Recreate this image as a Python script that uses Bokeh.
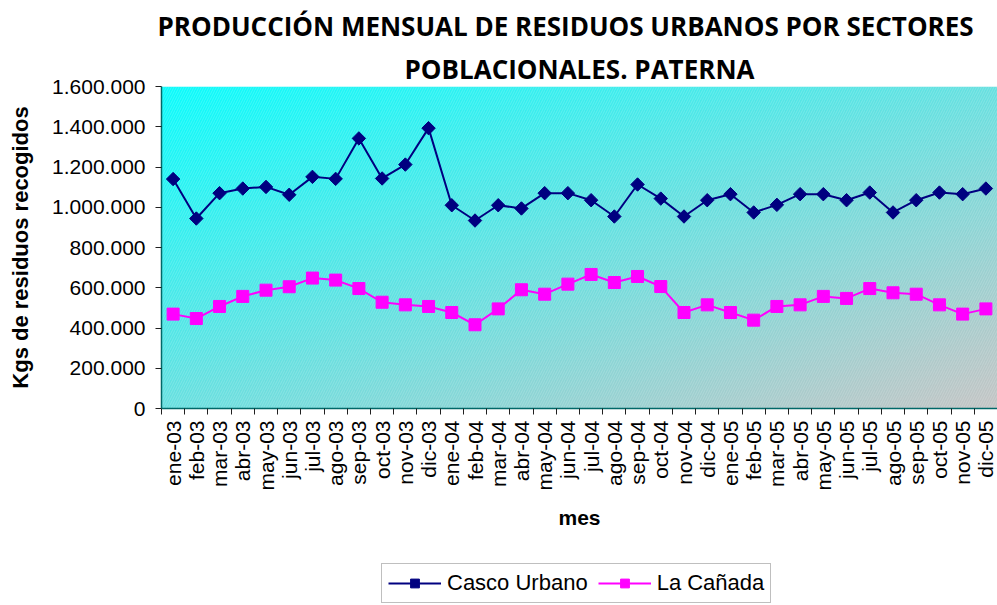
import numpy as np
from bokeh.plotting import figure
from bokeh.layouts import column
from bokeh.models import (Range1d, FixedTicker, Title, Legend, LegendItem)
from bokeh.embed import file_html
from bokeh.resources import INLINE

# ---------------- data ----------------
meses = ["ene-03", "feb-03", "mar-03", "abr-03", "may-03", "jun-03", "jul-03", "ago-03",
         "sep-03", "oct-03", "nov-03", "dic-03", "ene-04", "feb-04", "mar-04", "abr-04",
         "may-04", "jun-04", "jul-04", "ago-04", "sep-04", "oct-04", "nov-04", "dic-04",
         "ene-05", "feb-05", "mar-05", "abr-05", "may-05", "jun-05", "jul-05", "ago-05",
         "sep-05", "oct-05", "nov-05", "dic-05"]

casco_urbano = [1140000, 944000, 1070000, 1093000, 1101000, 1062000, 1151000, 1141000,
                1342000, 1143000, 1212000, 1393000, 1010000, 934000, 1010000, 994000,
                1070000, 1070000, 1035000, 954000, 1113000, 1043000, 954000, 1035000,
                1065000, 974000, 1012000, 1065000, 1065000, 1035000, 1073000, 974000,
                1035000, 1073000, 1065000, 1093000]

la_canada = [469000, 447000, 507000, 557000, 588000, 605000, 648000, 638000,
             596000, 528000, 515000, 507000, 477000, 416000, 495000, 590000,
             568000, 618000, 666000, 626000, 656000, 606000, 477000, 515000,
             477000, 439000, 507000, 515000, 557000, 547000, 596000, 575000,
             568000, 515000, 469000, 495000]

y_ticks = [0, 200000, 400000, 600000, 800000, 1000000, 1200000, 1400000, 1600000]
y_labels = ["0", "200.000", "400.000", "600.000", "800.000", "1.000.000",
            "1.200.000", "1.400.000", "1.600.000"]

series_names = ["Casco Urbano", "La Cañada"]
titulo_1 = "PRODUCCIÓN MENSUAL DE RESIDUOS URBANOS POR SECTORES"
titulo_2 = "POBLACIONALES. PATERNA"

# ---------------- figure ----------------
n = len(meses)
xs = [i + 0.5 for i in range(n)]
FONT = "Liberation Sans"
NAVY = "#000080"
MAGENTA = "#FF00FF"

p = figure(width=997, height=550, output_backend="svg", toolbar_location=None,
           title=None, x_range=Range1d(0, n), y_range=Range1d(0, y_ticks[-1]),
           min_border_left=161, min_border_right=0, min_border_top=86, min_border_bottom=142)
p.outline_line_color = None
p.background_fill_color = None
p.border_fill_color = "white"

# gradient background (cyan top-left -> grey bottom-right)
ny, nx = 120, 240
u = np.linspace(0, 1, nx)[None, :]
v = np.linspace(0, 1, ny)[:, None]
t = (u + (1 - v)) / 2.0
c0 = np.array([10, 252, 252], dtype=float)
c1 = np.array([196, 196, 196], dtype=float)
img = np.empty((ny, nx, 4), dtype=np.uint8)
for k in range(3):
    img[:, :, k] = np.clip(c0[k] + (c1[k] - c0[k]) * t, 0, 255).astype(np.uint8)
img[:, :, 3] = 255
img32 = img.view(dtype=np.uint32).reshape((ny, nx))
p.image_rgba(image=[img32], x=p.x_range.start, y=p.y_range.start,
             dw=p.x_range.end - p.x_range.start, dh=p.y_range.end - p.y_range.start)
p.quad(left=p.x_range.start, right=p.x_range.end, bottom=p.y_range.start, top=p.y_range.end,
       fill_alpha=0, line_alpha=0, hatch_pattern="/", hatch_color="white",
       hatch_alpha=0.18, hatch_scale=5, hatch_weight=1)

# series
p.line(xs, casco_urbano, line_color=NAVY, line_width=2)
p.scatter(xs, casco_urbano, marker="square", angle=np.pi / 4, size=9.5,
          fill_color=NAVY, line_color=NAVY)
p.line(xs, la_canada, line_color=MAGENTA, line_width=2)
p.scatter(xs, la_canada, marker="square", size=12, fill_color=MAGENTA, line_color=MAGENTA)

# y axis
yt = FixedTicker(ticks=y_ticks)
p.yaxis.ticker = yt
p.yaxis.major_label_overrides = {tk: lb for tk, lb in zip(y_ticks, y_labels)}
p.yaxis.minor_tick_line_color = None
p.yaxis.major_tick_in = 0
p.yaxis.major_tick_out = 6
p.yaxis.major_tick_line_color = "#202020"
p.yaxis.axis_line_color = "#006868"
p.yaxis.axis_line_width = 1.5
p.yaxis.major_label_text_font = FONT
p.yaxis.major_label_text_font_size = "21px"
p.yaxis.major_label_text_color = "black"
p.yaxis.major_label_standoff = 10
p.yaxis.axis_label = "Kgs de residuos recogidos"
p.yaxis.axis_label_text_font = FONT
p.yaxis.axis_label_text_font_size = "22px"
p.yaxis.axis_label_text_font_style = "bold"
p.yaxis.axis_label_text_color = "black"
p.yaxis.axis_label_standoff = 16

p.ygrid.ticker = FixedTicker(ticks=y_ticks[1:-1])
p.ygrid.grid_line_color = "#303838"
p.ygrid.grid_line_width = 1.3
p.xgrid.visible = False

# x axis
xt = FixedTicker(ticks=xs, minor_ticks=list(range(n + 1)))
p.xaxis.ticker = xt
p.xaxis.major_label_overrides = {x: m for x, m in zip(xs, meses)}
p.xaxis.major_tick_in = 0
p.xaxis.major_tick_out = 0
p.xaxis.minor_tick_in = 0
p.xaxis.minor_tick_out = 6
p.xaxis.minor_tick_line_color = "#202020"
p.xaxis.axis_line_color = "#006868"
p.xaxis.axis_line_width = 1.5
p.xaxis.major_label_orientation = np.pi / 2
p.xaxis.major_label_text_font = FONT
p.xaxis.major_label_text_font_size = "21px"
p.xaxis.major_label_text_color = "black"
p.xaxis.major_label_standoff = 6
p.xaxis.axis_label = "mes"
p.xaxis.axis_label_text_font = FONT
p.xaxis.axis_label_text_font_size = "21px"
p.xaxis.axis_label_text_font_style = "bold"
p.xaxis.axis_label_text_color = "black"
p.xaxis.axis_label_standoff = 12

# titles
p.add_layout(Title(text=titulo_2, align="center", text_font="Open Sans", text_color="black",
                   text_font_size="26px", text_font_style="bold", standoff=0), "above")
p.add_layout(Title(text=titulo_1, align="left", text_font="Open Sans", text_color="black",
                   text_font_size="26px", text_font_style="bold", standoff=10,
                   offset=-4), "above")

# ---------------- legend strip ----------------
# the same series are drawn here, but fall outside this strip's ranges,
# so only their legend glyphs are visible
lg = figure(width=997, height=55, output_backend="svg", toolbar_location=None, title=None,
            x_range=Range1d(0, 1), y_range=Range1d(0, 1), x_axis_type=None, y_axis_type=None,
            min_border=0)
lg.outline_line_color = None
lg.border_fill_color = "white"
lg.background_fill_color = "white"
r1 = lg.line(xs, casco_urbano, line_color=NAVY, line_width=2)
m1 = lg.scatter(xs, casco_urbano, marker="square", angle=np.pi / 4, size=10,
                fill_color=NAVY, line_color=NAVY)
r2 = lg.line(xs, la_canada, line_color=MAGENTA, line_width=2)
m2 = lg.scatter(xs, la_canada, marker="square", size=12, fill_color=MAGENTA, line_color=MAGENTA)
legend = Legend(items=[LegendItem(label=series_names[0], renderers=[r1, m1]),
                       LegendItem(label=series_names[1], renderers=[r2, m2])],
                orientation="horizontal", location=(220, 2),
                label_text_font=FONT, label_text_font_size="22px", label_text_color="black",
                glyph_width=53, glyph_height=22, label_standoff=6, spacing=10,
                padding=6, margin=0, border_line_color="#808080",
                border_line_width=1.5, background_fill_color="white")
lg.add_layout(legend, "center")

open("out.html", "w").write(file_html(column(p, lg, spacing=0), INLINE))
